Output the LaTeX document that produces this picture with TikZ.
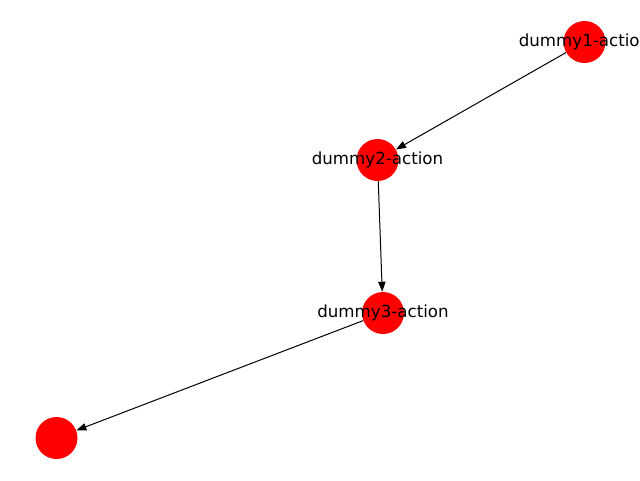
\documentclass[tikz,border=0pt]{standalone}
\usepackage{fontspec}
\setmainfont{DejaVu Sans}
\usetikzlibrary{arrows.meta}
\tikzset{
  vertex/.style={circle, fill=red, draw=none, minimum size=31.5pt, inner sep=0pt},
  vlabel/.style={font=\fontsize{12.5}{15}\selectfont, text=black, inner sep=0pt},
  edge/.style={line width=0.75pt, -{Stealth[length=7.5pt, width=5.5pt, inset=0pt]}}
}
\begin{document}
\begin{tikzpicture}[x=0.75pt, y=-0.75pt]
\useasboundingbox (0,0) rectangle (640,480);
\clip (0,0) rectangle (640,480);
\fill[white] (0,0) rectangle (640,480);
\node[vertex] (n1) at (584.5,42) {};
\node[vertex] (n2) at (377.5,160) {};
\node[vertex] (n3) at (383,313) {};
\node[vertex] (n4) at (56.5,438) {};
\draw[edge] (n1) -- (n2);
\draw[edge] (n2) -- (n3);
\draw[edge] (n3) -- (n4);
\node[vlabel] (l1) at (n1) {dummy1-action};
\node[vlabel] (l2) at (n2) {dummy2-action};
\node[vlabel] (l3) at (n3) {dummy3-action};
\end{tikzpicture}
\end{document}
